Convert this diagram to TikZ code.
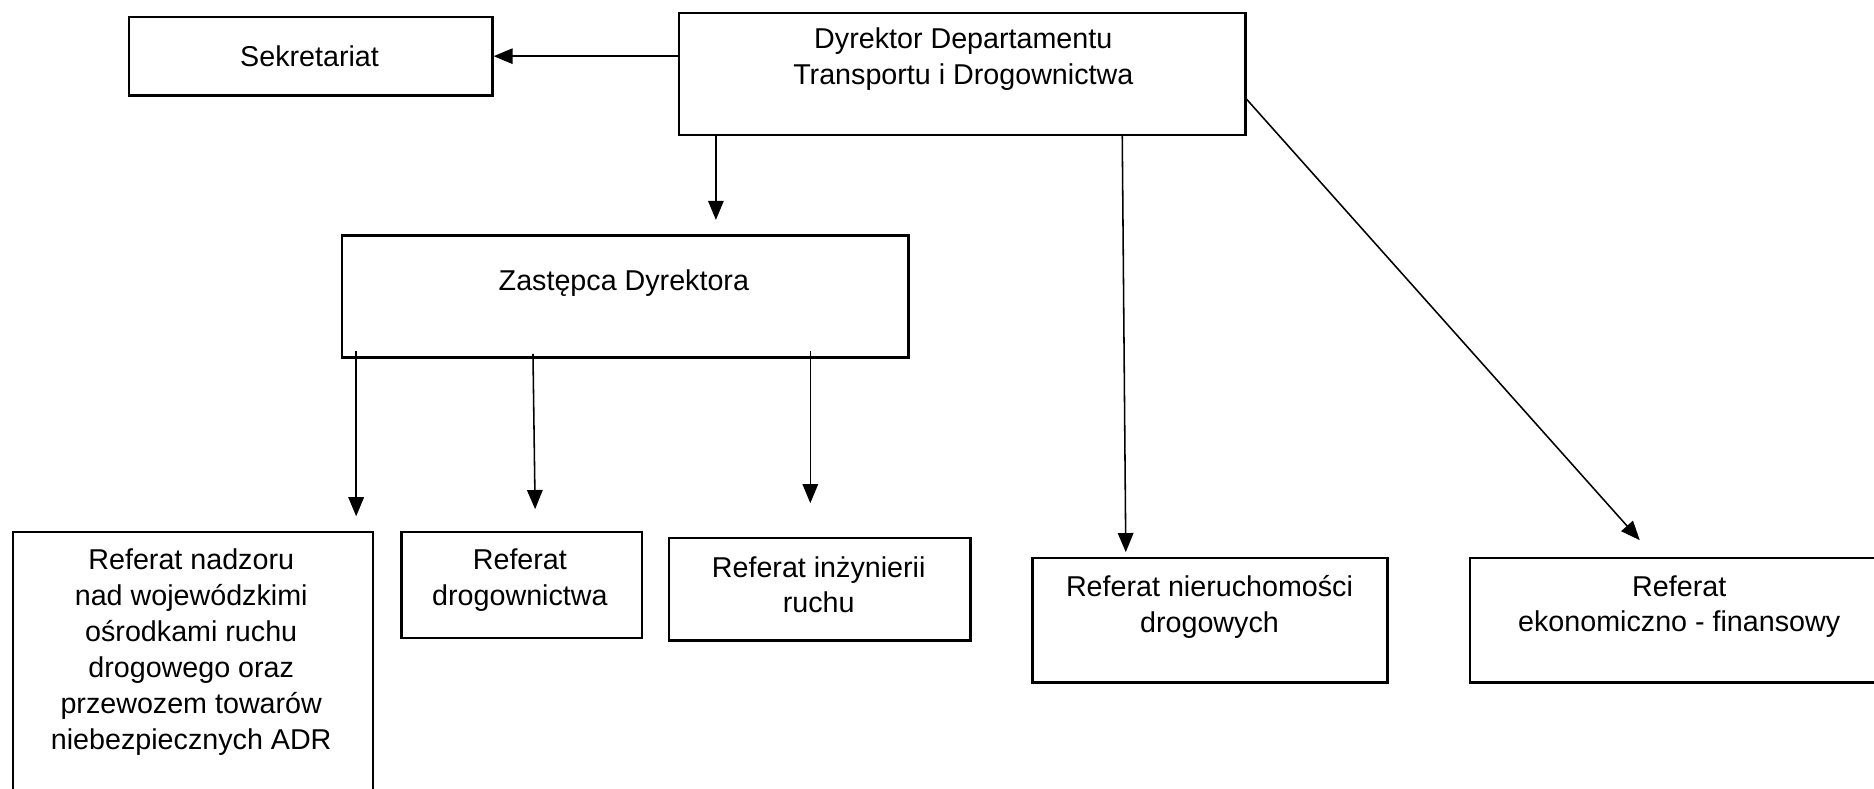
\documentclass[tikz,border=0pt]{standalone}
\usepackage{fontspec}
\setmainfont{Liberation Sans}
\usetikzlibrary{arrows.meta,calc}
\tikzset{
  box/.style={draw, line width=1bp, inner sep=0pt, anchor=north west},
  txt/.style={font=\fontsize{12bp}{15bp}\selectfont, align=center, anchor=north, inner sep=0pt},
  arr/.style={-{Triangle[length=8bp,width=6.5bp]}, line width=0.65bp}
}
\begin{document}
\begin{tikzpicture}[x=0.5bp,y=-0.5bp]
\clip (0,0) rectangle (1568,660);
\fill[white] (0,0) rectangle (1568,660);
% boxes
\node[box, minimum width=152bp, minimum height=33bp] (sek) at (107,13) {};
\node[box, minimum width=237bp, minimum height=51bp] (dir) at (567,10) {};
\node[box, minimum width=237bp, minimum height=51bp] (zas) at (285,196) {};
\node[box, minimum width=150.5bp, minimum height=130bp] (adr) at (10,444) {};
\node[box, minimum width=100.5bp, minimum height=44.5bp] (drog) at (335,444) {};
\node[box, minimum width=126bp, minimum height=43bp] (inz) at (559,449) {};
\node[box, minimum width=148.5bp, minimum height=52bp] (nier) at (863,466) {};
\node[box, minimum width=176bp, minimum height=52bp] (eko) at (1229,466) {};
% texts
\node[txt] (sekT) at (259,38) {Sekretariat};
\node[txt] (dirT) at (806,23) {Dyrektor Departamentu\\Transportu i Drogownictwa};
\node[txt] (zasT) at (522,225) {Zastępca Dyrektora};
\node[txt] (adrT) at (160,459) {Referat nadzoru\\nad wojewódzkimi\\ośrodkami ruchu\\drogowego oraz\\przewozem towarów\\niebezpiecznych ADR};
\node[txt] (drogT) at (435,459) {Referat\\drogownictwa};
\node[txt] (inzT) at (685,465) {Referat inżynierii\\ruchu};
\node[txt] (nierT) at (1012,481) {Referat nieruchomości\\drogowych};
\node[txt] (ekoT) at (1405,481) {Referat\\ekonomiczno - finansowy};
% connectors
\draw[arr] (dir.west |- sek.east) -- (sek.east);
\draw[arr, shorten >=6bp] ($(dir.south west)+(32,0)$) -- ($(zas.north west)+(314,0)$);
\draw[arr, shorten >=6bp, shorten <=-3bp] ($(zas.south west)+(13,0)$) -- ($(adr.north west)+(288,0)$);
\draw[arr, shorten >=9bp, shorten <=-2bp] ($(zas.south west)+(161,0)$) -- ($(drog.north west)+(113,0)$);
\draw[arr, shorten >=14bp, shorten <=-3bp] ($(zas.south west)+(393,0)$) -- ($(inz.north west)+(119,0)$);
\draw[arr, shorten >=2bp] ($(dir.south west)+(372,0)$) -- ($(nier.north west)+(79,0)$);
\draw[arr, shorten >=9.4bp] ($(dir.north east)+(0,73)$) -- ($(eko.north west)+(155.5,0)$);
\end{tikzpicture}
\end{document}
